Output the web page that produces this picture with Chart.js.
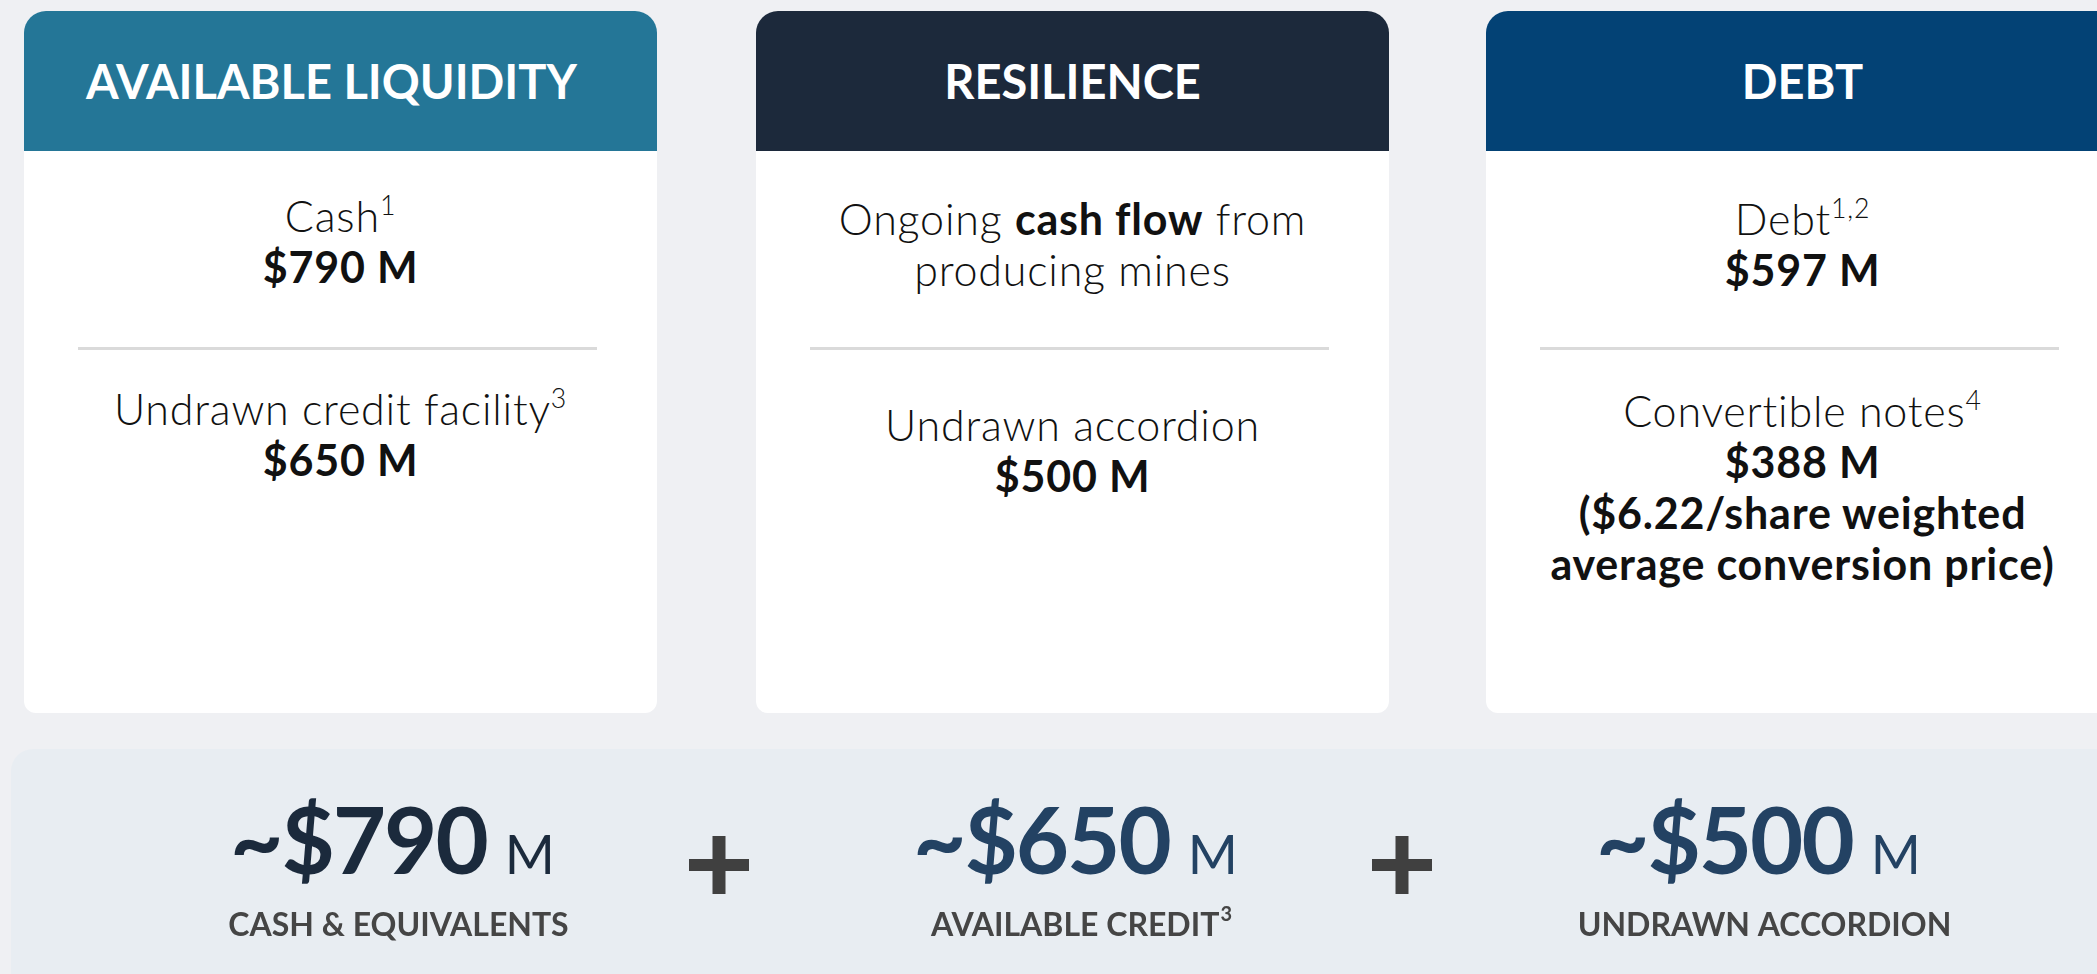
<!DOCTYPE html>
<html>
<head>
<meta charset="utf-8">
<script src="https://cdn.jsdelivr.net/npm/chart.js@4.4.1/dist/chart.umd.min.js"></script>
<style>
    html, body { margin: 0; padding: 0; }
    body {
        width: 2097px; height: 974px; overflow: hidden; position: relative;
        background: #eff0f3;
        font-family: Lato, 'Open Sans', sans-serif;
    }
    .card {
        position: absolute; top: 11px; width: 633px; height: 702px;
        background: #fff; border-radius: 22px 22px 12px 12px; overflow: hidden;
    }
    .card .head {
        height: 140px; display: flex; align-items: center; justify-content: center;
        color: #fff; font-weight: 700; font-size: 47px;
    }
    .card:first-child .head { padding-right: 18px; }
    .card .top, .card .lower {
        position: absolute; left: 0; right: 0; text-align: center;
        font-size: 43px; letter-spacing: 0.8px; line-height: 51px; font-weight: 300; color: #111;
    }
    .card .val { font-weight: 700; }
    .card .rule { position: absolute; left: 54px; width: 519px; top: 336px; height: 3px; background: #dadada; }
    sup { font-size: 0.62em; line-height: 0; vertical-align: 0.65em; }
    .band {
        position: absolute; left: 11px; top: 749px; width: 2100px; height: 240px;
        background: #e8edf2; border-radius: 22px 0 0 0;
    }
    .band canvas { display: block; }
</style>
</head>
<body>
<div id="cards"></div>
<div class="band"><canvas id="totalsChart" width="2100" height="240"></canvas></div>

<script>
// card content
const cardTitles = ['AVAILABLE LIQUIDITY', 'RESILIENCE', 'DEBT'];
const topLines = [['Cash'], ['Ongoing <b class="val">cash flow</b> from', 'producing mines'], ['Debt']];
const topNotes = ['1', '', '1,2'];
const topValues = ['$790 M', '', '$597 M'];
const lowerLabels = ['Undrawn credit facility', 'Undrawn accordion', 'Convertible notes'];
const lowerNotes = ['3', '', '4'];
const lowerValues = ['$650 M', '$500 M', '$388 M'];
const lowerExtra = [[], [], ['($6.22/share weighted', 'average conversion price)']];

// bottom band
const totalAmounts = [790, 650, 500];
const totalLabels = ['CASH & EQUIVALENTS', 'AVAILABLE CREDIT', 'UNDRAWN ACCORDION'];
const totalNotes = ['', '3', ''];

const cardLeft = [24, 756, 1486];
const headColors = ['#247697', '#1c293b', '#034275'];
const topOffset = [179, 182, 182];
const lowerOffset = [372, 388, 374];

let html = '';
for (let i = 0; i < cardTitles.length; ++i) {
    let top = topLines[i].map((l, j) =>
        '<div>' + l + (j === topLines[i].length - 1 && topNotes[i] ? '<sup>' + topNotes[i] + '</sup>' : '') + '</div>').join('');
    if (topValues[i]) top += '<div class="val">' + topValues[i] + '</div>';
    let lower = '<div>' + lowerLabels[i] + (lowerNotes[i] ? '<sup>' + lowerNotes[i] + '</sup>' : '') + '</div>'
        + '<div class="val">' + lowerValues[i] + '</div>'
        + lowerExtra[i].map(l => '<div class="val">' + l + '</div>').join('');
    html += '<div class="card" style="left:' + cardLeft[i] + 'px">'
        + '<div class="head" style="background:' + headColors[i] + '">' + cardTitles[i] + '</div>'
        + '<div class="top" style="top:' + topOffset[i] + 'px">' + top + '</div>'
        + '<div class="rule"></div>'
        + '<div class="lower" style="top:' + lowerOffset[i] + 'px">' + lower + '</div>'
        + '</div>';
}
document.getElementById('cards').innerHTML = html;

const numberColors = ['#1b2a3c', '#234263', '#234263'];

const totalsPlugin = {
    id: 'totals',
    afterDatasetsDraw(chart) {
        const ctx = chart.ctx;
        const pts = chart.getDatasetMeta(0).data;
        const values = chart.data.datasets[0].data;
        ctx.save();
        ctx.textAlign = 'left';
        ctx.textBaseline = 'alphabetic';
        pts.forEach((pt, i) => {
            const x = pt.x;
            // amount
            const big = '~$' + values[i];
            ctx.letterSpacing = '-2px';
            ctx.font = '700 92px Lato';
            const bw = ctx.measureText(big).width;
            ctx.letterSpacing = '0px';
            ctx.font = '400 54px Lato';
            const mw = ctx.measureText('M').width;
            const gap = 18;
            let sx = x - (bw + gap + mw) / 2;
            ctx.fillStyle = numberColors[i];
            ctx.letterSpacing = '-2px';
            ctx.font = '700 92px Lato';
            ctx.fillText(big, sx, 125);
            ctx.letterSpacing = '0px';
            ctx.font = '400 54px Lato';
            ctx.fillText('M', sx + bw + gap, 125);

            // caption
            ctx.fillStyle = '#454545';
            ctx.font = '700 32px Lato';
            const lw = ctx.measureText(chart.data.labels[i]).width;
            ctx.font = '700 20px Lato';
            const nw = totalNotes[i] ? ctx.measureText(totalNotes[i]).width + 1 : 0;
            let lx = x + 6 - (lw + nw) / 2;
            ctx.font = '700 32px Lato';
            ctx.fillText(chart.data.labels[i], lx, 187);
            if (totalNotes[i]) {
                ctx.font = '700 20px Lato';
                ctx.fillText(totalNotes[i], lx + lw + 1, 172);
            }

            // plus between amounts
            if (i > 0) {
                const px = (pts[i - 1].x + x) / 2 - 15;
                const py = 116;
                ctx.fillStyle = '#404040';
                ctx.fillRect(px - 30, py - 6, 60, 12);
                ctx.fillRect(px - 6.5, py - 29, 13, 58);
            }
        });
        ctx.restore();
    }
};

new Chart(document.getElementById('totalsChart'), {
    type: 'line',
    data: {
        labels: totalLabels,
        datasets: [{
            data: totalAmounts,
            showLine: false,
            pointRadius: 0,
            pointHoverRadius: 0
        }]
    },
    options: {
        responsive: false,
        animation: false,
        events: [],
        layout: { padding: { left: 40, right: 11, top: 0, bottom: 0 } },
        scales: {
            x: { display: false, offset: true },
            y: { display: false }
        },
        plugins: {
            legend: { display: false },
            tooltip: { enabled: false }
        }
    },
    plugins: [totalsPlugin]
});
</script>
</body>
</html>
